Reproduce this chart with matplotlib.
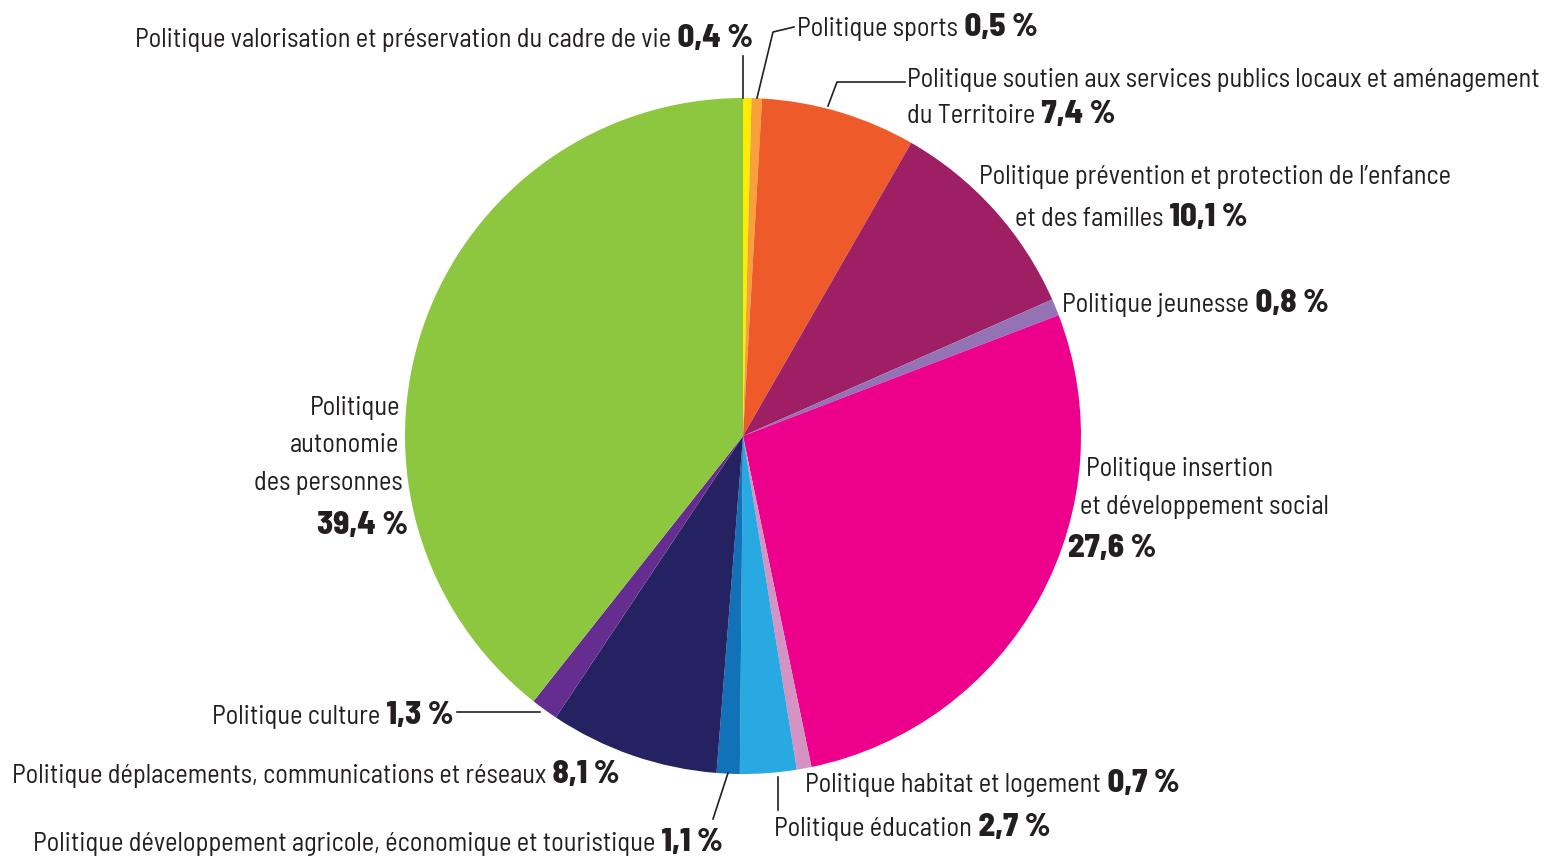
import matplotlib
matplotlib.use("Agg")
import matplotlib.pyplot as plt

# Budget shares (%), clockwise from 12 o'clock
labels = [
    "valorisation", "sports", "soutien", "prevention", "jeunesse", "insertion",
    "habitat", "education", "agricole", "deplacements", "culture", "autonomie",
]
shares = [0.4, 0.5, 7.4, 10.1, 0.8, 27.6, 0.7, 2.7, 1.1, 8.1, 1.3, 39.4]
colors = [
    "#FFED00", "#F8A13B", "#EF5A2A", "#9E1F63", "#9473B5", "#EC008C",
    "#D593C4", "#29A9E1", "#1172BA", "#252262", "#662D91", "#8DC63F",
]

plt.rcParams["font.family"] = ["Barlow Semi Condensed", "DejaVu Sans"]

W, H = 1546, 859
fig = plt.figure(figsize=(W / 100, H / 100), dpi=100)
ax = fig.add_axes([0, 0, 1, 1])
cx, cy, r = 743, H - 436, 338
ax.pie(shares, colors=colors, startangle=90, counterclock=False,
       center=(cx, cy), radius=r, wedgeprops=dict(linewidth=0))
ax.set_xlim(0, W)
ax.set_ylim(0, H)
ax.set_aspect("equal")
ax.axis("off")

TXT = "#231F20"
NS, BS = 19.0, 23.5


def label(x, y, normal, bold=None, ha="left"):
    # x, y in image pixels (top origin), y = baseline
    yb = H - y
    if normal:
        t = ax.text(x, yb, normal, fontsize=NS, color=TXT, ha=ha, va="baseline")
        if bold:
            ax.annotate(" " + bold, xy=(1, yb), xycoords=(t, "data"),
                        fontsize=BS, fontweight=800, color=TXT,
                        ha="left", va="baseline")
    else:
        ax.text(x, yb, bold, fontsize=BS, fontweight=800, color=TXT,
                ha=ha, va="baseline")


label(135, 47, "Politique valorisation et préservation du cadre de vie", "0,4 %")
label(797, 36, "Politique sports", "0,5 %")
label(907, 87, "Politique soutien aux services publics locaux et aménagement")
label(907, 123, "du Territoire", "7,4 %")
label(979, 184, "Politique prévention et protection de l’enfance")
label(1015, 226, "et des familles", "10,1 %")
label(1062, 312, "Politique jeunesse", "0,8 %")
label(1086, 476, "Politique insertion")
label(1080, 514, "et développement social")
label(1068, 557, None, "27,6 %")
label(805, 792, "Politique habitat et logement", "0,7 %")
label(774, 836, "Politique éducation", "2,7 %")
label(33, 851, "Politique développement agricole, économique et touristique", "1,1 %")
label(12, 783, "Politique déplacements, communications et réseaux", "8,1 %")
label(212, 724, "Politique culture", "1,3 %")
label(400, 415, "Politique", ha="right")
label(399, 452, "autonomie", ha="right")
label(403, 490, "des personnes", ha="right")
label(408, 534, None, "39,4 %", ha="right")

# leader lines (image pixel coords)
leaders = [
    [(743, 56), (743, 98)],
    [(794, 27), (773, 32), (757, 98)],
    [(905, 82), (837, 82), (828, 106)],
    [(457, 712), (540, 712)],
    [(728, 773), (713, 819)],
    [(778, 777), (778, 810)],
]
for pts in leaders:
    ax.plot([p[0] for p in pts], [H - p[1] for p in pts], color=TXT, lw=1.2)

fig.savefig("out.png", dpi=100)
